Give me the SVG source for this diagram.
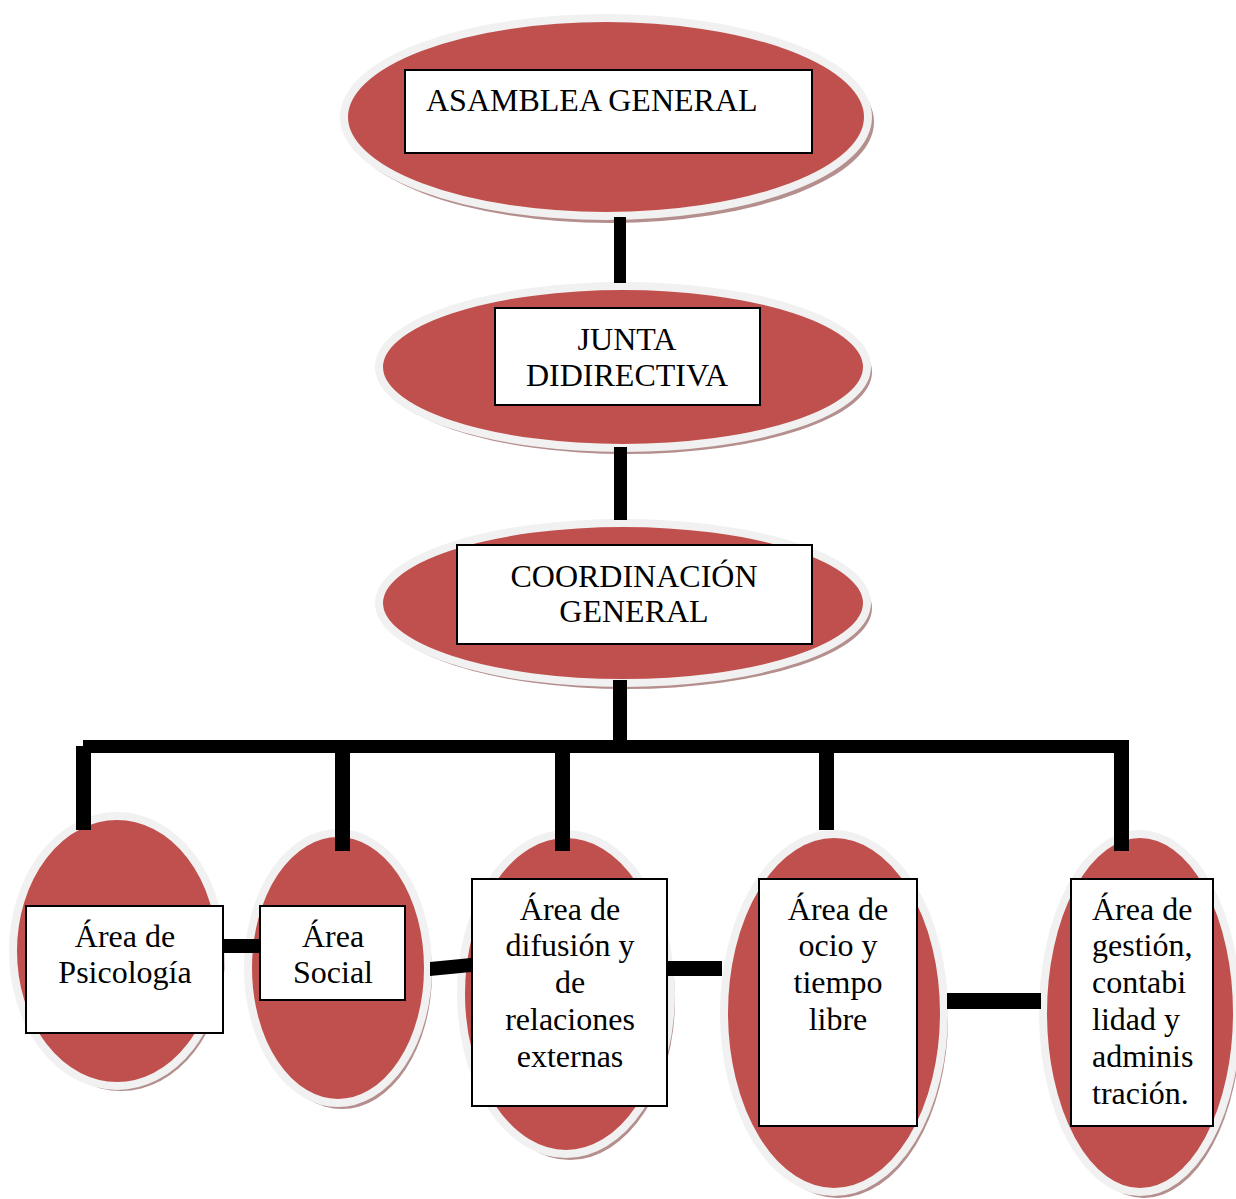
<svg xmlns="http://www.w3.org/2000/svg" width="1236" height="1199" viewBox="0 0 1236 1199">
<style>
.sh{fill:#b58e8e}
.el{fill:#c0504d;stroke:#f1f1f1;stroke-width:8}
.bx{fill:#ffffff;stroke:#000000;stroke-width:2}
.t{font-family:"Liberation Serif","Times New Roman",serif;font-size:32px;fill:#000000}
.c{text-anchor:middle}
.cn{fill:#000000}
</style>
<rect width="1236" height="1199" fill="#ffffff"/>
<g id="asamblea">
<ellipse class="sh" cx="610" cy="122" rx="264" ry="101"/>
<ellipse class="el" cx="606" cy="117" rx="262" ry="99"/>
<rect class="bx" x="405" y="70" width="407" height="83"/>
<text class="t" x="426" y="111">ASAMBLEA GENERAL</text>
</g>
<g id="junta">
<ellipse class="sh" cx="627" cy="372" rx="245" ry="82"/>
<ellipse class="el" cx="623" cy="367" rx="244" ry="81"/>
<rect class="bx" x="495" y="308" width="265" height="97"/>
<text class="t c" x="627" y="350">JUNTA</text>
<text class="t c" x="627" y="386">DIDIRECTIVA</text>
</g>
<g id="coordinacion">
<ellipse class="sh" cx="627" cy="608" rx="245" ry="81"/>
<ellipse class="el" cx="623" cy="603" rx="244" ry="80"/>
<rect class="bx" x="457" y="545" width="355" height="99"/>
<text class="t c" x="634" y="587">COORDINACIÓN</text>
<text class="t c" x="634" y="622">GENERAL</text>
</g>
<g id="psicologia">
<ellipse class="sh" cx="121" cy="956" rx="104" ry="135"/>
<ellipse class="el" cx="117" cy="951" rx="104" ry="135"/>
<rect class="bx" x="26" y="906" width="197" height="127"/>
<text class="t c" x="125" y="947">Área de</text>
<text class="t c" x="125" y="983">Psicología</text>
</g>
<g id="social">
<ellipse class="sh" cx="342" cy="973" rx="90" ry="136"/>
<ellipse class="el" cx="338" cy="968" rx="90" ry="135"/>
<rect class="bx" x="260" y="906" width="145" height="94"/>
<text class="t c" x="333" y="947">Área</text>
<text class="t c" x="333" y="983">Social</text>
</g>
<g id="difusion">
<ellipse class="sh" cx="570" cy="999" rx="105" ry="161"/>
<ellipse class="el" cx="566" cy="994" rx="105" ry="160"/>
<rect class="bx" x="472" y="879" width="195" height="227"/>
<text class="t c" x="570" y="920">Área de</text>
<text class="t c" x="570" y="956">difusión y</text>
<text class="t c" x="570" y="993">de</text>
<text class="t c" x="570" y="1030">relaciones</text>
<text class="t c" x="570" y="1067">externas</text>
</g>
<g id="ocio">
<ellipse class="sh" cx="838" cy="1018" rx="110" ry="180"/>
<ellipse class="el" cx="834" cy="1013" rx="110" ry="179"/>
<rect class="bx" x="759" y="879" width="158" height="247"/>
<text class="t c" x="838" y="920">Área de</text>
<text class="t c" x="838" y="956">ocio y</text>
<text class="t c" x="838" y="993">tiempo</text>
<text class="t c" x="838" y="1030">libre</text>
</g>
<g id="gestion">
<ellipse class="sh" cx="1144" cy="1018" rx="97" ry="180"/>
<ellipse class="el" cx="1140" cy="1013" rx="97" ry="179"/>
<rect class="bx" x="1071" y="879" width="142" height="247"/>
<text class="t" x="1092" y="920">Área de</text>
<text class="t" x="1092" y="956">gestión,</text>
<text class="t" x="1092" y="993">contabi</text>
<text class="t" x="1092" y="1030">lidad y</text>
<text class="t" x="1092" y="1067">adminis</text>
<text class="t" x="1092" y="1104">tración.</text>
</g>
<g id="connectors">
<rect class="cn" x="614" y="217" width="12" height="66"/>
<rect class="cn" x="614" y="447" width="13" height="73"/>
<rect class="cn" x="613" y="680" width="14" height="66"/>
<rect class="cn" x="83" y="740" width="1039" height="13"/>
<rect class="cn" x="76" y="746" width="15" height="84"/>
<rect class="cn" x="335" y="740" width="15" height="111"/>
<rect class="cn" x="555" y="740" width="15" height="111"/>
<rect class="cn" x="819" y="740" width="15" height="90"/>
<rect class="cn" x="1114" y="740" width="15" height="111"/>
<rect class="cn" x="224" y="939" width="36" height="14"/>
<polygon class="cn" points="430,962 471,958 471,972 430,976"/>
<rect class="cn" x="668" y="961" width="54" height="15"/>
<rect class="cn" x="947" y="993" width="94" height="16"/>
</g>
</svg>
